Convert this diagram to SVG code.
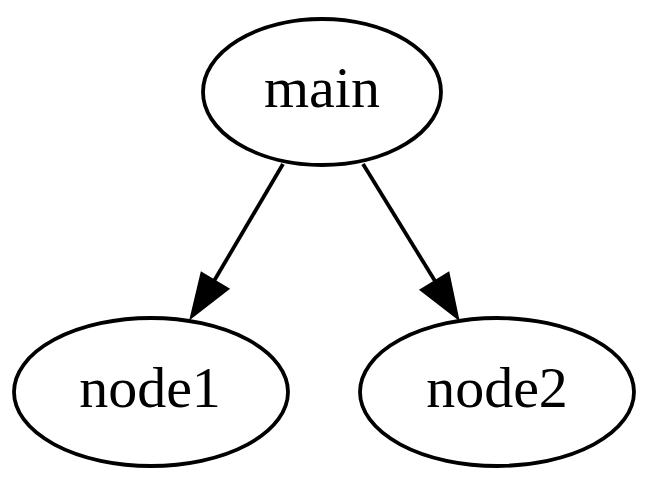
<svg xmlns="http://www.w3.org/2000/svg" width="650" height="483" viewBox="0 0 650 483">
  <style>
    .node ellipse { fill: none; stroke: #000; stroke-width: 3.8; }
    .node text { font-family: "Liberation Serif", "Times New Roman", serif; font-size: 58px; text-anchor: middle; fill: #000; }
    .edge line { stroke: #000; stroke-width: 3.8; }
    .edge polygon { fill: #000; stroke: #000; stroke-width: 3.5; stroke-linejoin: miter; }
  </style>
  <rect width="650" height="483" fill="#fff"/>
  <g id="edges">
    <g class="edge" id="main-node1">
      <line x1="283" y1="164" x2="214" y2="281"/>
      <polygon points="202,274 227,289 192,316"/>
    </g>
    <g class="edge" id="main-node2">
      <line x1="363" y1="164" x2="435" y2="281"/>
      <polygon points="422,290 448,274 457,317"/>
    </g>
  </g>
  <g class="node" id="main">
    <ellipse cx="322" cy="92" rx="119" ry="73"/>
    <text x="322" y="107">main</text>
  </g>
  <g class="node" id="node1">
    <ellipse cx="151" cy="392" rx="137" ry="74"/>
    <text x="150" y="407">node1</text>
  </g>
  <g class="node" id="node2">
    <ellipse cx="497" cy="392" rx="137" ry="74"/>
    <text x="497" y="407">node2</text>
  </g>
</svg>
